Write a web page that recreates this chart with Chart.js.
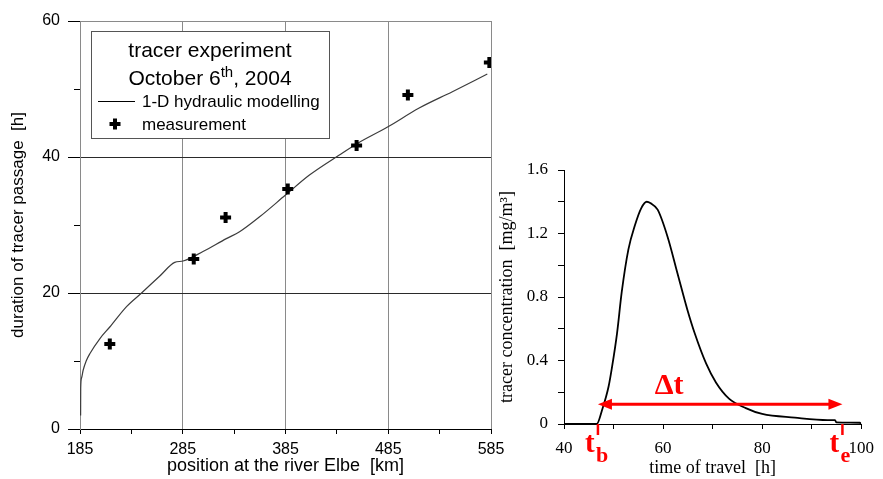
<!DOCTYPE html>
<html>
<head>
<meta charset="utf-8">
<script src="https://cdn.jsdelivr.net/npm/chart.js@4.4.1/dist/chart.umd.min.js"></script>
<style>
html,body{margin:0;padding:0;background:#fff;}
#wrap{position:relative;width:883px;height:479px;overflow:hidden;background:#fff;}
canvas{position:absolute;top:0;}
#c1{left:0;}
#c2{left:496px;}
</style>
</head>
<body>
<div id="wrap">
<canvas id="c1" width="520" height="479"></canvas>
<canvas id="c2" width="387" height="479"></canvas>
</div>
<script>
// ---------- left chart: duration of tracer passage ----------
const modelKm    = [185.6, 185.7, 186.5, 188, 191, 194.7, 204.4, 214, 230.3, 244.9, 262.7, 277.2, 285.3, 304.7, 327.4, 340.3, 359.8, 385, 408.3, 437.4, 455, 484.3, 515.1, 547.4, 581.4];
const modelHours = [2, 6, 7.5, 8.6, 10, 11.1, 13.3, 15, 18, 20, 22.5, 24.5, 24.7, 26.1, 28, 29, 31.2, 34.4, 37.35, 40.3, 42, 44.4, 47.2, 49.6, 52.2];
const measKm     = [214, 295.7, 326.7, 387.2, 454.2, 504.1, 583.4];
const measHours  = [12.5, 25, 31.1, 35.3, 41.7, 49.1, 53.9];
const xTicksLeft      = [185, 235, 285, 335, 385, 435, 485, 535, 585];
const xTickLabelsLeft = ['185', '', '285', '', '385', '', '485', '', '585'];
const yTicksLeft      = [0, 20, 40, 60];
const yMinorLeft      = [10, 30, 50];

// ---------- right chart: tracer concentration ----------
const travelHours   = [40, 46.6, 47.7, 49, 49.7, 50.7, 51.65, 53, 54.3, 55.6, 56.7, 57.5, 58.9, 60.9, 62.9, 64.9, 66.4, 68.7, 70.7, 73.3, 76.7, 80, 86.6, 93.2, 94.7, 95, 99.7, 100];
const concentration = [0, 0, 0.09, 0.236, 0.36, 0.57, 0.83, 1.10, 1.25, 1.36, 1.40, 1.39, 1.35, 1.18, 0.95, 0.72, 0.57, 0.38, 0.26, 0.16, 0.10, 0.063, 0.04, 0.025, 0.024, 0.01, 0.008, 0];
const xTicksRight      = [40, 50, 60, 70, 80, 90, 100];
const xTickLabelsRight = ['40', '', '60', '', '80', '', '100'];
const yTicksRight      = [0, 0.2, 0.4, 0.6, 0.8, 1.0, 1.2, 1.4, 1.6];
const yTickLabelsRight = ['0', '', '0.4', '', '0.8', '', '1.2', '', '1.6'];
const tBegin = 46.85, tEnd = 96.2, arrowLevel = 0.124;
const deltaLabelAt = [61.2, 0.24];

const SANS  = "'Liberation Sans', Arial, sans-serif";
const SERIF = "'Liberation Serif', 'Times New Roman', serif";

const leftDecor = {
  id: 'leftDecor',
  afterDraw(chart) {
    const ctx = chart.ctx, ys = chart.scales.y, a = chart.chartArea;
    ctx.save();
    ctx.strokeStyle = '#000'; ctx.lineWidth = 1;
    yMinorLeft.forEach(v => {
      const p = Math.round(ys.getPixelForValue(v)) + 0.5;
      ctx.beginPath(); ctx.moveTo(a.left - 6, p); ctx.lineTo(a.left, p); ctx.stroke();
    });
    // legend box
    const bx = Math.round(a.left) + 11, by = Math.round(a.top) + 10, bw = 238, bh = 107;
    ctx.fillStyle = '#fff'; ctx.fillRect(bx, by, bw, bh);
    ctx.strokeStyle = '#555'; ctx.lineWidth = 1; ctx.strokeRect(bx + 0.5, by + 0.5, bw, bh);
    const cx = bx + bw / 2;
    ctx.fillStyle = '#000';
    ctx.textBaseline = 'alphabetic';
    ctx.font = '21px ' + SANS; ctx.textAlign = 'center';
    ctx.fillText('tracer experiment', cx, by + 26);
    ctx.textAlign = 'left';
    ctx.font = '21px ' + SANS; const w1 = ctx.measureText('October 6').width, w3 = ctx.measureText(', 2004').width;
    ctx.font = '15px ' + SANS; const w2 = ctx.measureText('th').width;
    let sx = cx - (w1 + w2 + w3) / 2;
    ctx.font = '21px ' + SANS; ctx.fillText('October 6', sx, by + 54);
    ctx.font = '15px ' + SANS; ctx.fillText('th', sx + w1, by + 46);
    ctx.font = '21px ' + SANS; ctx.fillText(', 2004', sx + w1 + w2, by + 54);
    // model line sample
    ctx.strokeStyle = '#000'; ctx.lineWidth = 1;
    ctx.beginPath(); ctx.moveTo(bx + 7, by + 70.5); ctx.lineTo(bx + 44, by + 70.5); ctx.stroke();
    ctx.font = '17px ' + SANS;
    ctx.fillText('1-D hydraulic modelling', bx + 51, by + 76);
    // measurement sample
    ctx.lineWidth = 4;
    const mx = bx + 24, my = by + 93;
    ctx.beginPath(); ctx.moveTo(mx - 5.5, my); ctx.lineTo(mx + 5.5, my); ctx.moveTo(mx, my - 5.5); ctx.lineTo(mx, my + 5.5); ctx.stroke();
    ctx.fillText('measurement', bx + 51, by + 99);
    ctx.restore();
  }
};

const rightDecor = {
  id: 'rightDecor',
  afterDraw(chart) {
    const ctx = chart.ctx, xs = chart.scales.x, ys = chart.scales.y;
    const x1 = xs.getPixelForValue(tBegin), x2 = xs.getPixelForValue(tEnd);
    const ya = ys.getPixelForValue(arrowLevel), y0 = ys.getPixelForValue(0);
    ctx.save();
    ctx.strokeStyle = '#ff0000'; ctx.fillStyle = '#ff0000';
    const head = 14, hw = 5.5;
    ctx.lineWidth = 3;
    ctx.beginPath(); ctx.moveTo(x1 + head - 1, ya); ctx.lineTo(x2 - head + 1, ya); ctx.stroke();
    ctx.beginPath(); ctx.moveTo(x1, ya); ctx.lineTo(x1 + head, ya - hw); ctx.lineTo(x1 + head, ya + hw); ctx.closePath(); ctx.fill();
    ctx.beginPath(); ctx.moveTo(x2, ya); ctx.lineTo(x2 - head, ya - hw); ctx.lineTo(x2 - head, ya + hw); ctx.closePath(); ctx.fill();
    ctx.lineWidth = 2.5;
    [x1, x2].forEach(x => { ctx.beginPath(); ctx.moveTo(x, y0); ctx.lineTo(x, y0 + 11); ctx.stroke(); });
    ctx.font = 'bold 30px ' + SERIF; ctx.textAlign = 'center'; ctx.textBaseline = 'middle';
    ctx.fillText('Δt', xs.getPixelForValue(deltaLabelAt[0]), ys.getPixelForValue(deltaLabelAt[1]));
    ctx.textAlign = 'left'; ctx.textBaseline = 'alphabetic';
    const lbl = (x, s) => {
      ctx.font = 'bold 29px ' + SERIF; ctx.fillText('t', x - 13, y0 + 28);
      ctx.font = 'bold 22px ' + SERIF; ctx.fillText(s, x - 2, y0 + 38);
    };
    lbl(x1, 'b'); lbl(x2, 'e');
    ctx.restore();
  }
};

new Chart(document.getElementById('c1'), {
  type: 'scatter',
  data: {
    datasets: [
      { label: '1-D hydraulic modelling', data: modelKm.map((x, i) => ({ x, y: modelHours[i] })), showLine: true,
        borderColor: '#3c3c3c', borderWidth: 1.2, pointRadius: 0, cubicInterpolationMode: 'monotone', order: 2 },
      { label: 'measurement', data: measKm.map((x, i) => ({ x, y: measHours[i] })), showLine: false,
        pointStyle: 'cross', pointRadius: 5.5, borderColor: '#000', backgroundColor: '#000', borderWidth: 4, order: 1 }
    ]
  },
  options: {
    responsive: false, animation: false, events: [],
    layout: { padding: { top: 21, right: 29, left: 0, bottom: 0 } },
    plugins: { legend: { display: false }, tooltip: { enabled: false } },
    scales: {
      x: {
        type: 'linear', min: 185, max: 585,
        afterBuildTicks: s => { s.ticks = xTicksLeft.map(v => ({ value: v })); },
        afterFit: s => { s.height = 50; },
        ticks: { autoSkip: false, maxRotation: 0, padding: 6, color: '#000', font: { family: SANS, size: 16 },
                 callback: (v, i) => xTickLabelsLeft[i] },
        grid: { color: c => xTickLabelsLeft[c.index] ? '#8a8a8a' : 'rgba(0,0,0,0)', tickColor: '#000', tickLength: 5, lineWidth: 1 },
        border: { color: '#000', width: 1 },
        title: { display: true, text: 'position at the river Elbe  [km]', color: '#000', font: { family: SANS, size: 18 }, padding: { top: 0, bottom: 2 } }
      },
      y: {
        type: 'linear', min: 0, max: 60,
        afterBuildTicks: s => { s.ticks = yTicksLeft.map(v => ({ value: v })); },
        afterFit: s => { s.width = 80; },
        ticks: { padding: 8, color: '#000', font: { family: SANS, size: 16 } },
        grid: { color: c => (c.tick && c.tick.value === 60) ? '#8a8a8a' : '#2a2a2a', tickColor: '#000', tickLength: 12, lineWidth: 1 },
        border: { color: '#8a8a8a', width: 1 },
        title: { display: true, text: 'duration of tracer passage  [h]', color: '#000', font: { family: SANS, size: 17 }, padding: { top: 8, bottom: 0 } }
      }
    }
  },
  plugins: [leftDecor]
});

new Chart(document.getElementById('c2'), {
  type: 'scatter',
  data: {
    datasets: [
      { label: 'tracer concentration', data: travelHours.map((x, i) => ({ x, y: concentration[i] })), showLine: true,
        borderColor: '#000', borderWidth: 1.8, pointRadius: 0, cubicInterpolationMode: 'monotone' }
    ]
  },
  options: {
    responsive: false, animation: false, events: [],
    layout: { padding: { top: 170, right: 15, left: 0, bottom: 0 } },
    plugins: { legend: { display: false }, tooltip: { enabled: false } },
    scales: {
      x: {
        type: 'linear', min: 40, max: 100,
        afterBuildTicks: s => { s.ticks = xTicksRight.map(v => ({ value: v })); },
        afterFit: s => { s.height = 55; },
        ticks: { autoSkip: false, maxRotation: 0, padding: 9, color: '#000', font: { family: SERIF, size: 17 },
                 callback: (v, i) => xTickLabelsRight[i] },
        grid: { drawOnChartArea: false, tickColor: '#000', tickLength: 5 },
        border: { color: '#000', width: 1 },
        title: { display: true, text: 'time of travel  [h]', color: '#000', font: { family: SERIF, size: 18 }, padding: { top: 0, bottom: 0 } }
      },
      y: {
        type: 'linear', min: 0, max: 1.6,
        afterBuildTicks: s => { s.ticks = yTicksRight.map(v => ({ value: v })); },
        afterFit: s => { s.width = 68; },
        ticks: { autoSkip: false, padding: 10, color: '#000', font: { family: SERIF, size: 17 },
                 callback: (v, i) => yTickLabelsRight[i] },
        grid: { drawOnChartArea: false, tickColor: '#000', tickLength: 6 },
        border: { color: '#000', width: 1 },
        title: { display: true, text: 'tracer concentration  [mg/m³]', color: '#000', font: { family: SERIF, size: 18 }, padding: { top: 0, bottom: 0 } }
      }
    }
  },
  plugins: [rightDecor]
});
</script>
</body>
</html>
